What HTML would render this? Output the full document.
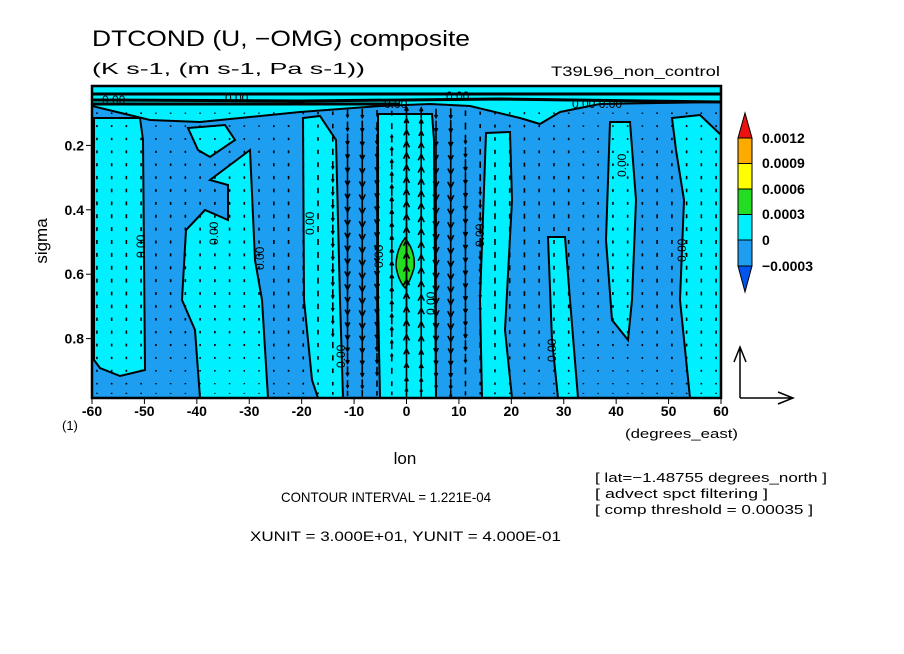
<!DOCTYPE html>
<html><head><meta charset="utf-8"><style>
body{margin:0;background:#fff;}
svg{display:block;font-family:"Liberation Sans",sans-serif;}
</style></head><body>
<svg id="chart" width="904" height="654" viewBox="0 0 904 654">
<rect width="904" height="654" fill="#fff"/>
<text x="92" y="46" font-size="22" textLength="378" lengthAdjust="spacingAndGlyphs">DTCOND (U, −OMG) composite</text>
<text x="92" y="74" font-size="16" textLength="273" lengthAdjust="spacingAndGlyphs">(K s-1, (m s-1, Pa s-1))</text>
<text x="551" y="76" font-size="14" textLength="169" lengthAdjust="spacingAndGlyphs">T39L96_non_control</text>
<g id="plot">
<rect x="92" y="86" width="629" height="312" fill="#1e9ef0"/>
<g fill="#00f0ff" stroke="#000" stroke-width="2">
<polygon points="92,86 721,86 721,102 600,104 560,112 540,124 520,118 470,106 430,104 380,106 300,112 200,122 150,120 92,106" />
<polygon points="94,118 140,118 143,140 145,370 120,376 100,368 94,360" />
<polygon points="188,128 225,125 235,140 210,157 198,150" />
<polygon points="210,180 250,150 255,260 262,300 268,398 200,398 195,330 182,300 186,230 205,210 228,220 228,185" />
<polygon points="303,118 320,116 336,140 340,300 343,398 318,398 312,380 304,300" />
<polygon points="378,114 432,114 434,140 436,398 380,398 378,300" />
<polygon points="486,133 510,132 512,200 505,330 512,398 482,398 480,300" />
<polygon points="548,237 565,237 570,300 578,398 558,398 552,340" />
<polygon points="610,122 630,122 636,200 632,300 628,340 612,320 606,240" />
<polygon points="672,118 700,115 721,135 721,398 690,398 680,300 684,200 676,150" />
</g>
<path d="M405,238 Q416,252 414,268 Q410,282 405,288 Q398,280 396,266 Q396,250 405,238Z" fill="#22dd22" stroke="#000" stroke-width="1.5"/>
<g stroke="#000" stroke-width="3" fill="none">
<path d="M92,94 L721,94"/><path d="M92,100 L300,101 L500,99 L721,102"/><path d="M92,104 L400,104"/>
</g>
<g font-size="12">
<text x="102" y="104">0.00</text><text x="225" y="102">0.00</text><text x="384" y="108">0.00</text><text x="446" y="100">0.00</text><text x="572" y="108">0.00 0.00</text>
<text transform="translate(145,258) rotate(-90)">0.00</text>
<text transform="translate(218,245) rotate(-90)">0.00</text>
<text transform="translate(264,270) rotate(-90)">0.00</text>
<text transform="translate(314,235) rotate(-90)">0.00</text>
<text transform="translate(345,368) rotate(-90)">0.00</text>
<text transform="translate(383,268) rotate(-90)">0.00</text>
<text transform="translate(435,315) rotate(-90)">0.00</text>
<text transform="translate(484,247) rotate(-90)">0.00</text>
<text transform="translate(556,362) rotate(-90)">0.00</text>
<text transform="translate(626,177) rotate(-90)">0.00</text>
<text transform="translate(686,262) rotate(-90)">0.00</text>
</g>
<g id="arrows" stroke="#000" fill="none" stroke-width="1.6"></g>
<rect x="92" y="86" width="629" height="312" fill="none" stroke="#000" stroke-width="2.5"/>
</g>
<g id="axes" font-size="14" font-weight="bold"></g>
<text transform="translate(47,241) rotate(-90)" font-size="17" text-anchor="middle">sigma</text>
<text x="62" y="430" font-size="13">(1)</text>
<text x="405" y="464" font-size="17" text-anchor="middle">lon</text>
<text x="625" y="438" font-size="13" textLength="113" lengthAdjust="spacingAndGlyphs">(degrees_east)</text>
<text x="281" y="502" font-size="14" textLength="210" lengthAdjust="spacingAndGlyphs">CONTOUR INTERVAL = 1.221E-04</text>
<text x="250" y="541" font-size="14" textLength="311" lengthAdjust="spacingAndGlyphs">XUNIT = 3.000E+01, YUNIT = 4.000E-01</text>
<g font-size="13">
<text x="595" y="482" textLength="232" lengthAdjust="spacingAndGlyphs">[ lat=−1.48755 degrees_north ]</text>
<text x="595" y="498" textLength="173" lengthAdjust="spacingAndGlyphs">[ advect spct filtering ]</text>
<text x="595" y="514" textLength="218" lengthAdjust="spacingAndGlyphs">[ comp threshold = 0.00035 ]</text>
</g>
<g stroke="#000" stroke-width="1">
<polygon points="738,138 752,138 745,113" fill="#ee1111"/>
<rect x="738" y="138" width="14" height="25.5" fill="#ffaa00"/>
<rect x="738" y="163.5" width="14" height="25.5" fill="#ffff00"/>
<rect x="738" y="189" width="14" height="25.5" fill="#22dd22"/>
<rect x="738" y="214.5" width="14" height="25.5" fill="#00f0ff"/>
<rect x="738" y="240" width="14" height="26" fill="#1e9ef0"/>
<polygon points="738,266 752,266 745,292" fill="#0055ee"/>
</g>
<g font-size="14" font-weight="bold">
<text x="762" y="143">0.0012</text><text x="762" y="168">0.0009</text><text x="762" y="194">0.0006</text>
<text x="762" y="219">0.0003</text><text x="762" y="245">0</text><text x="762" y="271">−0.0003</text>
</g>
<g stroke="#000" stroke-width="1.5" fill="none">
<path d="M740,398 L740,347 M734,362 L740,347 L746,362"/>
<path d="M740,398 L793,398 M778,392 L793,398 L778,404"/>
</g>
</svg>
<script>
const lons=[-59.06,-56.25,-53.44,-50.63,-47.81,-45,-42.19,-39.38,-36.56,-33.75,-30.94,-28.13,-25.31,-22.5,-19.69,-16.88,-14.06,-11.25,-8.44,-5.63,-2.81,0,2.81,5.63,8.44,11.25,14.06,16.88,19.69,22.5,25.31,28.13,30.94,33.75,36.56,39.38,42.19,45,47.81,50.63,53.44,56.25,59.06];
const colAmp=[4,4,4,4,3,3,3,3,3,3,-3,-3,-4,-4,-5,-6,-9,-18,-22,-16,12,30,26,-22,-24,-14,-8,-6,5,5,4,-4,-4,3,3,3,-3,3,4,4,4,4,4];
const levels=[0.1,0.14,0.18,0.22,0.26,0.3,0.34,0.38,0.42,0.46,0.5,0.54,0.58,0.62,0.66,0.7,0.74,0.78,0.82,0.86,0.9,0.94,0.97];
const profile=[0.4,0.5,0.6,0.7,0.8,0.85,0.9,0.95,1,1,1,1,1,1,0.95,0.9,0.85,0.8,0.7,0.6,0.5,0.4,0.3];
const xTicks=[-60,-50,-40,-30,-20,-10,0,10,20,30,40,50,60];
const yTicks=[0.2,0.4,0.6,0.8];
const X=l=>92+(l+60)*629/120, Y=s=>81+s*322;
const NS="http://www.w3.org/2000/svg";
const ag=document.getElementById('arrows');
lons.forEach((l,i)=>{levels.forEach((s,j)=>{
 const len=colAmp[i]*profile[j]; const x=X(l), y=Y(s);
 const y0=y+len/2, y1=y-len/2; const d=len>0?-1:1;
 const a=Math.abs(len); const h=a>7?Math.min(6,a*0.3):0;
 const p=document.createElementNS(NS,'path');
 let dd=`M${x},${y0} L${x},${y1}`;
 if(h>0) dd+=` M${x-h*0.5},${y1-d*h} L${x},${y1} L${x+h*0.5},${y1-d*h}`;
 p.setAttribute('d',dd);
 
 
 ag.appendChild(p);
});});
const ax=document.getElementById('axes');
xTicks.forEach(t=>{
 const tx=document.createElementNS(NS,'text');
 tx.setAttribute('x',X(t));tx.setAttribute('y',416);tx.setAttribute('text-anchor','middle');tx.textContent=t;
 
 
 ax.appendChild(tx);
 const ln=document.createElementNS(NS,'line');
 ln.setAttribute('x1',X(t));ln.setAttribute('x2',X(t));ln.setAttribute('y1',398);ln.setAttribute('y2',404);ln.setAttribute('stroke','#000');
 
 
 ax.appendChild(ln);
});
yTicks.forEach(t=>{
 const tx=document.createElementNS(NS,'text');
 tx.setAttribute('x',84);tx.setAttribute('y',Y(t)+5);tx.setAttribute('text-anchor','end');tx.textContent=t;
 
 
 ax.appendChild(tx);
 const ln=document.createElementNS(NS,'line');
 ln.setAttribute('x1',86);ln.setAttribute('x2',92);ln.setAttribute('y1',Y(t));ln.setAttribute('y2',Y(t));ln.setAttribute('stroke','#000');
 
 
 ax.appendChild(ln);
});
</script>
</body></html>
